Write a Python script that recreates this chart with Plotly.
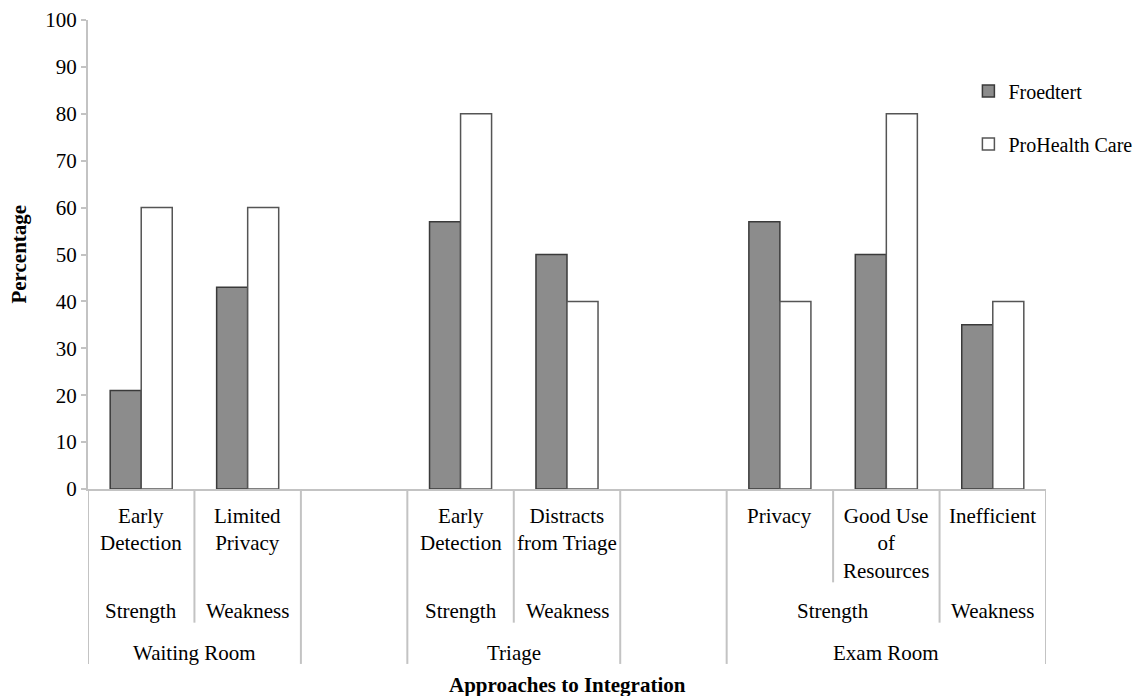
import plotly.graph_objects as go

# ---- data ----
leaf_labels = ["Early<br>Detection", "Limited<br>Privacy", "", "Early<br>Detection",
               "Distracts<br>from Triage", "", "Privacy", "Good Use<br>of<br>Resources", "Inefficient"]
type_labels = ["Strength", "Weakness", "", "Strength", "Weakness", "", "Strength", "Strength", "Weakness"]
area_labels = ["Waiting Room", "Waiting Room", "", "Triage", "Triage", "", "Exam Room", "Exam Room", "Exam Room"]
froedtert = [21, 43, None, 57, 50, None, 57, 50, 35]
prohealth = [60, 60, None, 80, 40, None, 40, 80, 40]
y_ticks = list(range(0, 101, 10))

FONT = "Liberation Serif"
FS = 21
AXIS_GREY = "#c3c3c3"

n = len(leaf_labels)
xs = list(range(n))

fig = go.Figure()
fig.add_trace(go.Bar(x=xs, y=froedtert, name="Froedtert", legendgroup="a",
                     marker=dict(color="#8c8c8c", line=dict(color="#3a3a3a", width=1.5))))
fig.add_trace(go.Bar(x=xs, y=prohealth, name="ProHealth Care", legendgroup="b",
                     marker=dict(color="#ffffff", line=dict(color="#555555", width=1.5))))

# level positions (paper coords, below the x axis)
Y_L1_TOP = -0.028
Y_L2 = -0.260
Y_L3 = -0.350
Y_L1_BOT = -0.199
Y_L2_BOT = -0.285
Y_L3_BOT = -0.373

annotations = []
shapes = []

for i, t in enumerate(leaf_labels):
    if t:
        annotations.append(dict(x=i, y=Y_L1_TOP, xref="x", yref="paper", text=t, showarrow=False,
                                yanchor="top", xanchor="center", align="center",
                                font=dict(family=FONT, size=FS, color="#000")))

def runs(keys):
    out = []
    start = 0
    for i in range(1, n + 1):
        if i == n or keys[i] != keys[start]:
            out.append((start, i - 1, keys[start]))
            start = i
    return out

for s, e, k in runs(list(zip(area_labels, type_labels))):
    if k[1]:
        annotations.append(dict(x=(s + e) / 2, y=Y_L2, xref="x", yref="paper", text=k[1], showarrow=False,
                                yanchor="middle", xanchor="center",
                                font=dict(family=FONT, size=FS, color="#000")))
for s, e, k in runs(area_labels):
    if k:
        annotations.append(dict(x=(s + e) / 2, y=Y_L3, xref="x", yref="paper", text=k, showarrow=False,
                                yanchor="middle", xanchor="center",
                                font=dict(family=FONT, size=FS, color="#000")))

for b in range(n + 1):
    if b == 0 or b == n or area_labels[b - 1] != area_labels[b]:
        yb = Y_L3_BOT
    elif type_labels[b - 1] != type_labels[b]:
        yb = Y_L2_BOT
    else:
        yb = Y_L1_BOT
    shapes.append(dict(type="line", xref="x", yref="paper", x0=b - 0.5, x1=b - 0.5, y0=0, y1=yb,
                       line=dict(color=AXIS_GREY, width=2)))

annotations.append(dict(x=0.5, y=-0.418, xref="paper", yref="paper", text="<b>Approaches to Integration</b>",
                        showarrow=False, xanchor="center", yanchor="middle",
                        font=dict(family=FONT, size=FS, color="#000")))
annotations.append(dict(x=-0.073, y=0.5, xref="paper", yref="paper", text="<b>Percentage</b>",
                        showarrow=False, xanchor="center", yanchor="middle", textangle=-90,
                        font=dict(family=FONT, size=FS, color="#000")))

fig.update_layout(
    width=1135, height=688,
    margin=dict(l=80, r=97, t=12, b=207, autoexpand=False),
    paper_bgcolor="white", plot_bgcolor="white",
    barmode="group", bargap=0.417, bargroupgap=0,
    font=dict(family=FONT, size=FS, color="#000"),
    xaxis=dict(range=[-0.5, n - 0.5], showticklabels=False, showgrid=False, zeroline=False,
               showline=True, linecolor=AXIS_GREY, linewidth=2, ticks=""),
    yaxis=dict(range=[0, 100], tickvals=y_ticks, showgrid=False, zeroline=False,
               showline=True, linecolor=AXIS_GREY, linewidth=2, ticks="outside", ticklen=5,
               tickcolor=AXIS_GREY, tickwidth=2, tickfont=dict(family=FONT, size=FS, color="#000")),
    legend=dict(x=0.919, y=0.890, xanchor="left", yanchor="top", traceorder="grouped",
                tracegroupgap=24, font=dict(family=FONT, size=20, color="#000"),
                bgcolor="rgba(0,0,0,0)"),
    annotations=annotations, shapes=shapes,
)

fig.write_html("out.html")
